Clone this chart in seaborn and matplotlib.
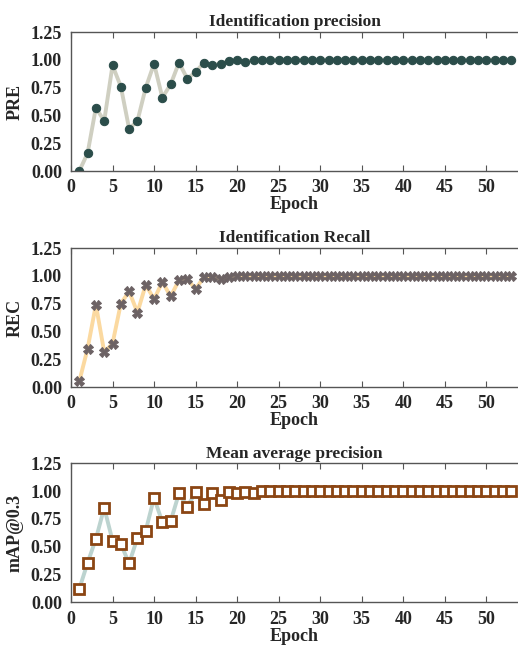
import matplotlib
matplotlib.use("Agg")
import matplotlib.pyplot as plt
import seaborn as sns
import pandas as pd

epochs = list(range(1, 54))

pre = [0.00, 0.16, 0.57, 0.45, 0.95, 0.76, 0.38, 0.45, 0.75, 0.965,
       0.66, 0.78, 0.975, 0.83, 0.89, 0.975, 0.95, 0.965, 0.99, 0.995,
       0.98, 0.995] + [1.0] * 31

rec = [0.05, 0.345, 0.74, 0.315, 0.39, 0.75, 0.86, 0.67, 0.92, 0.79,
       0.945, 0.815, 0.96, 0.97, 0.88, 0.99, 0.99, 0.975, 0.99, 1.0] + [1.0] * 33

map03 = [0.12, 0.355, 0.57, 0.85, 0.555, 0.525, 0.35, 0.58, 0.645, 0.94,
         0.72, 0.73, 0.98, 0.86, 0.99, 0.88, 0.985, 0.92, 0.99, 0.985,
         0.99, 0.985] + [1.0] * 31

titles = ["Identification precision", "Identification Recall", "Mean average precision"]
ylabels = ["PRE", "REC", "mAP@0.3"]
yticks = [0.0, 0.25, 0.5, 0.75, 1.0, 1.25]
xticks = [0, 5, 10, 15, 20, 25, 30, 35, 40, 45, 50]

sns.set_style("white")
plt.rcParams["font.family"] = ["Liberation Serif", "DejaVu Serif"]
plt.rcParams["font.weight"] = "bold"

df = pd.DataFrame({"epoch": epochs, "pre": pre, "rec": rec, "map": map03})

fig = plt.figure(figsize=(5.18, 6.52), dpi=100)
bottoms = [0.7377, 0.4064, 0.0762]
axes = [fig.add_axes([0.137, b, 0.863, 0.2132]) for b in bottoms]

styles = [
    dict(y="pre", color="#cfcfc1", marker="o", markersize=6,
         markerfacecolor="#2b4d4a", markeredgecolor="#2b4d4a"),
    dict(y="rec", color="#fbd9a0", marker="X", markersize=7,
         markerfacecolor="#6c6264", markeredgecolor="#6c6264"),
    dict(y="map", color="#bcd3cf", marker="s", markersize=6.5,
         markerfacecolor="white", markeredgecolor="#8b4513", markeredgewidth=2),
]

for ax, st, title, ylab in zip(axes, styles, titles, ylabels):
    st = dict(st)
    ycol = st.pop("y")
    sns.lineplot(data=df, x="epoch", y=ycol, ax=ax, linewidth=2.8, **st)
    ax.set_xlim(0, 53.8)
    ax.set_ylim(0, 1.25)
    ax.set_xticks(xticks)
    ax.set_yticks(yticks)
    ax.set_yticklabels([f"{v:.2f}" for v in yticks])
    ax.set_title(title, fontsize=12.5, fontweight="bold", pad=4)
    ax.set_ylabel(ylab, fontsize=13, fontweight="bold", labelpad=5)
    ax.set_xlabel("Epoch", fontsize=13, fontweight="bold", labelpad=0)
    for s in ["left", "top", "bottom"]:
        ax.spines[s].set_color("#555555")
        ax.spines[s].set_linewidth(1.0)
    ax.spines["right"].set_visible(False)
    ax.tick_params(axis="x", direction="in", top=True, bottom=True, length=4,
                   color="#555555", labelsize=13, pad=6)
    ax.tick_params(axis="y", left=False, labelsize=13, pad=3)
    for lab in ax.get_xticklabels() + ax.get_yticklabels():
        lab.set_fontweight("bold")

fig.savefig("out.png", dpi=100)
plt.close(fig)
